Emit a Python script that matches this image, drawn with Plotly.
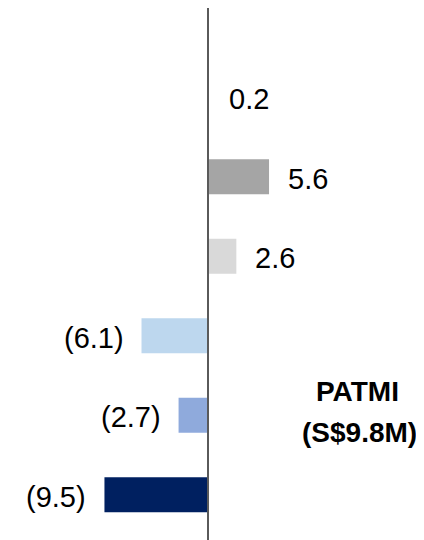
import plotly.graph_objects as go

categories = ["Item 1", "Item 2", "Item 3", "Item 4", "Item 5", "Item 6"]
values = [0.2, 5.6, 2.6, -6.1, -2.7, -9.5]
colors = ["#FFFFFF", "#A5A5A5", "#D9D9D9", "#BDD7EE", "#8FAADC", "#002060"]
title_lines = ["PATMI", "(S$9.8M)"]


def fmt(v):
    return f"{v:.1f}" if v >= 0 else f"({abs(v):.1f})"


fig = go.Figure()
fig.add_trace(go.Bar(
    x=values, y=categories, orientation="h",
    marker=dict(color=colors, line=dict(width=0)),
    width=0.44, hoverinfo="skip", showlegend=False,
))

annotations = []
for c, v in zip(categories, values):
    annotations.append(dict(
        x=v, y=c, xref="x", yref="y", text=fmt(v), showarrow=False,
        xanchor="left" if v >= 0 else "right", yanchor="middle",
        xshift=17 if v >= 0 else -16, yshift=-2,
        font=dict(family="Liberation Sans, Arial", size=29, color="#000000"),
    ))

annotations.append(dict(
    x=0.8413, y=0.2800, xref="paper", yref="paper", text=f"<b>{title_lines[0]}</b>",
    showarrow=False, xanchor="center", yanchor="middle",
    font=dict(family="Liberation Sans, Arial", size=28, color="#000000"),
))
annotations.append(dict(
    x=0.8440, y=0.2030, xref="paper", yref="paper", text=f"<b>{title_lines[1]}</b>",
    showarrow=False, xanchor="center", yanchor="middle",
    font=dict(family="Liberation Sans, Arial", size=28, color="#000000"),
))

fig.update_layout(
    width=416, height=532,
    margin=dict(l=0, r=0, t=0, b=0),
    paper_bgcolor="#FFFFFF", plot_bgcolor="#FFFFFF",
    annotations=annotations,
    shapes=[dict(type="line", xref="x", yref="paper", x0=0, x1=0, y0=0, y1=1,
                 line=dict(color="#5A5A5A", width=2), layer="above")],
    xaxis=dict(range=[-200 / 10.9, 216 / 10.9], showgrid=False, showticklabels=False,
               ticks="", zeroline=False, showline=False, fixedrange=True),
    yaxis=dict(type="category", categoryorder="array", categoryarray=categories,
               range=[5.570, -1.122], showgrid=False, showticklabels=False,
               ticks="", zeroline=False, showline=False, fixedrange=True),
    bargap=0.56,
)

fig.write_html("out.html")
